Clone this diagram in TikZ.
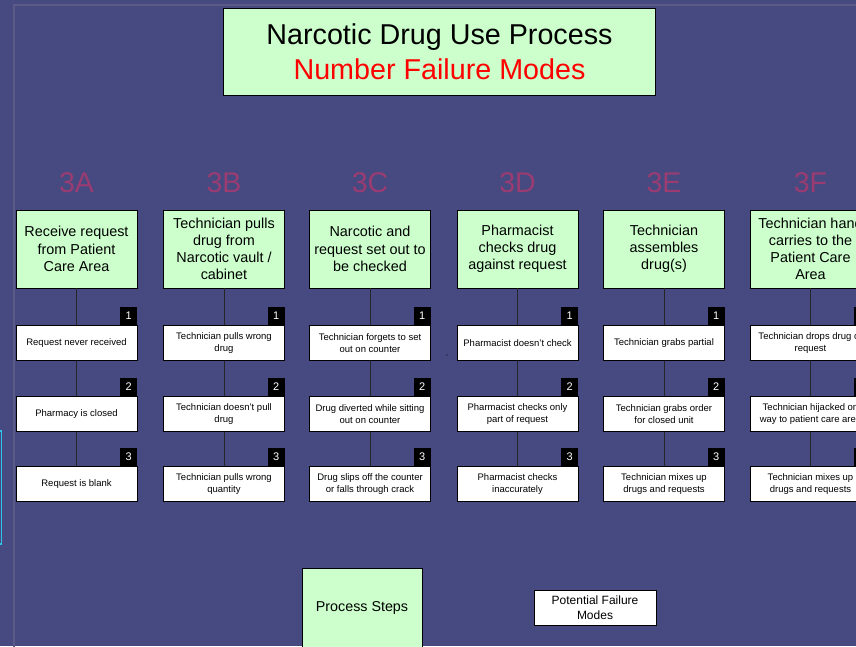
\documentclass[tikz,border=0pt]{standalone}
\usepackage{fontspec}
\setmainfont{Liberation Sans}
\definecolor{bgc}{HTML}{474A81}
\definecolor{framec}{HTML}{5C5A86}
\definecolor{greenbox}{HTML}{CCFFCC}
\definecolor{lblc}{HTML}{9A3C72}
\definecolor{cyanc}{HTML}{2FC4E6}
\tikzset{
  stepbox/.style={draw=black, line width=0.8pt, fill=greenbox, minimum width=121, minimum height=78, inner sep=0pt, align=center, font=\fontsize{14.4}{17.2}\selectfont},
  fm/.style={draw=black, line width=0.8pt, fill=white, minimum width=121, minimum height=35, inner sep=0pt, align=center, font=\fontsize{9.5}{12}\selectfont},
  num/.style={fill=black, text=white, minimum width=17, minimum height=18, inner sep=0pt, font=\fontsize{11}{12}\selectfont},
  lbl/.style={text=lblc, inner sep=0pt, font=\fontsize{28.5}{30}\selectfont},
  conn/.style={draw=black!85, line width=0.8pt},
}
\begin{document}
\begin{tikzpicture}[x=1pt,y=-1pt]
\useasboundingbox (0,0) rectangle (856,646);
\clip (0,0) rectangle (856,646);
\fill[bgc] (0,0) rectangle (856,646);
% faint frame
\draw[framec, line width=1.6pt] (14,660) -- (14,5) -- (870,5);
% cyan box at left edge
\draw[cyanc, line width=1.5pt] (-10,431) rectangle (1.5,544);
% title
\node[draw=black, line width=1pt, fill=greenbox, minimum width=432, minimum height=87, inner sep=0pt, align=center, font=\fontsize{28.7}{35}\selectfont] (title) at (439.5,51.5) {Narcotic Drug Use Process\\\textcolor{red}{Number Failure Modes}};
% columns
\foreach \c/\x/\lab/\st/\fa/\fb/\fc in {
 A/76.5/3A/{Receive request\\from Patient\\Care Area}/{Request never received}/{Pharmacy is closed}/{Request is blank},
 B/224/3B/{Technician pulls\\drug from\\Narcotic vault /\\cabinet}/{Technician pulls wrong\\drug}/{Technician doesn’t pull\\drug}/{Technician pulls wrong\\quantity},
 C/370/3C/{Narcotic and\\request set out to\\be checked}/{Technician forgets to set\\out on counter}/{Drug diverted while sitting\\out on counter}/{Drug slips off the counter\\or falls through crack},
 D/517.5/3D/{Pharmacist\\checks drug\\against request}/{Pharmacist doesn’t check}/{Pharmacist checks only\\part of request}/{Pharmacist checks\\inaccurately},
 E/664/3E/{Technician\\assembles\\drug(s)}/{Technician grabs partial}/{Technician grabs order\\for closed unit}/{Technician mixes up\\drugs and requests},
 F/810.5/3F/{Technician hand\\carries to the\\Patient Care\\Area}/{Technician drops drug or\\request}/{Technician hijacked on\\way to patient care area}/{Technician mixes up\\drugs and requests}}
{
 \node[lbl] (L\c) at (\x,183) {\lab};
 \node[stepbox] (S\c) at (\x,249) {\st};
 \node[fm] (F\c1) at (\x,343) {\fa};
 \node[fm] (F\c2) at (\x,414) {\fb};
 \node[fm] (F\c3) at (\x,484) {\fc};
 \node[num, anchor=south east] (N\c1) at (F\c1.north east) {1};
 \node[num, anchor=south east] (N\c2) at (F\c2.north east) {2};
 \node[num, anchor=south east] (N\c3) at (F\c3.north east) {3};
 \draw[conn] (S\c) -- (F\c1);
 \draw[conn] (F\c1) -- (F\c2);
 \draw[conn] (F\c2) -- (F\c3);
}
% stray dot
\fill[black] (447,355) circle (0.7);
% legend
\node[draw=black, line width=0.8pt, fill=greenbox, minimum width=120, minimum height=100, inner sep=0pt, anchor=north west] (legS) at (302,568) {};
\node[font=\fontsize{14.3}{17}\selectfont] (legSt) at (362,607.5) {Process Steps};
\node[draw=black, line width=0.8pt, fill=white, minimum width=122, minimum height=35, inner sep=0pt, align=center, font=\fontsize{12}{14.7}\selectfont] (legF) at (595,607.5) {Potential Failure\\Modes};
\end{tikzpicture}
\end{document}
